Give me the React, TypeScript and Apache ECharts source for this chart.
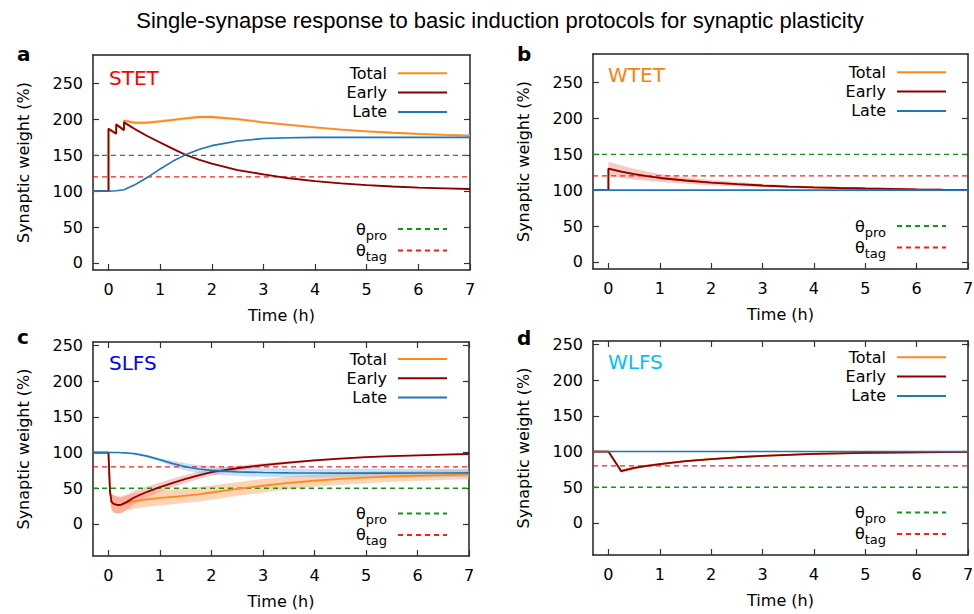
import { useEffect, useRef } from 'react';
import * as echarts from 'echarts';

const FONT = 'DejaVu Sans';

const chartTitle = 'Single-synapse response to basic induction protocols for synaptic plasticity';
const panelLetters = ['a', 'b', 'c', 'd'];
const protocolNames = ['STET', 'WTET', 'SLFS', 'WLFS'];
const protocolColors = ['#ff0000', '#ff7f0e', '#0000ff', '#00bfff'];
const seriesNames = ['Total', 'Early', 'Late'];
const thresholdNames = ['θpro', 'θtag'];
const xAxisName = 'Time (h)';
const yAxisName = 'Synaptic weight (%)';
const xTickValues = [0, 1, 2, 3, 4, 5, 6, 7];
const yTickValues = [0, 50, 100, 150, 200, 250];
const xMin = -0.3;
const xMax = 7;
const thetaPro = [150, 150, 50, 50];
const thetaTag = [120, 120, 80, 80];

// STET (strong tetanus)
const timeSTET = [-0.3, 0, 0, 0.15, 0.15, 0.3, 0.3, 0.5, 0.75, 1, 1.25, 1.5, 1.75, 2, 2.5, 3, 3.5, 4, 4.5, 5, 5.5, 6, 6.5, 7];
const totalSTET = [100, 100, 187, 180.5, 193.5, 186, 198.5, 195.5, 195.5, 197.5, 199.5, 201.5, 203.5, 203.5, 200.5, 196, 192.5, 189, 186, 183.5, 181.5, 180, 178.5, 177.5];
const earlySTET = [100, 100, 187, 180, 193, 185, 196, 187, 177, 168, 159, 150.5, 144, 138.5, 129.5, 123.5, 118, 114, 111, 108.5, 106.5, 105, 104, 103];
const lateSTET = [100, 100, 100, 100.5, 100.5, 102, 102, 108.5, 119, 131, 142, 151, 158, 163.5, 170, 173.5, 174.5, 175, 175, 175, 175, 175, 175, 175];
const totalErrSTET = [0, 0, 1.5, 1.5, 1.5, 1.5, 2, 2, 2, 2, 2, 2, 2, 2, 2, 1.5, 1.5, 1.5, 1.5, 1.5, 1.5, 1.5, 1.5, 1.5];
const earlyErrSTET = [0, 0, 2, 2, 2, 2, 2, 2, 1.5, 1.5, 1.5, 1.5, 1, 1, 1, 1, 1, 1, 1, 1, 1, 1, 1, 1];
const lateErrSTET = [0, 0, 0, 0, 0, 0.5, 0.5, 1, 1, 1, 1, 1, 1, 1, 1, 1, 1, 1, 1, 1, 1, 1, 1, 1];

// WTET (weak tetanus)
const timeWTET = [-0.3, 0, 0, 0.25, 0.5, 0.75, 1, 1.5, 2, 2.5, 3, 3.5, 4, 4.5, 5, 5.5, 6, 6.5, 7];
const totalWTET = [100, 100, 130, 126, 122.5, 119.5, 117, 113.5, 110.5, 108.3, 106.5, 105, 103.8, 103, 102.3, 101.7, 101.2, 100.8, 100.5];
const earlyWTET = [100, 100, 130, 126, 122.5, 119.5, 117, 113.5, 110.5, 108.3, 106.5, 105, 103.8, 103, 102.3, 101.7, 101.2, 100.8, 100.5];
const lateWTET = [100, 100, 100, 100, 100, 100, 100, 100, 100, 100, 100, 100, 100, 100, 100, 100, 100, 100, 100];
const earlyErrWTET = [0, 0, 9.5, 8.5, 7.5, 6.5, 5.5, 4.5, 3.8, 3, 2.5, 2, 1.6, 1.3, 1, 0.8, 0.6, 0.5, 0.4];

// SLFS (strong low-frequency stimulation)
const timeSLFS = [-0.3, 0, 0.03, 0.06, 0.1, 0.15, 0.2, 0.25, 0.35, 0.5, 0.75, 1, 1.25, 1.5, 1.75, 2, 2.5, 3, 3.5, 4, 4.5, 5, 5.5, 6, 6.5, 7];
const totalSLFS = [100, 100, 45, 31, 28, 27, 26, 26.5, 29, 32, 34.5, 36.5, 38, 39.5, 41.5, 44, 49, 53.5, 57.5, 60.5, 63, 65, 66.5, 67.5, 68.5, 69];
const earlySLFS = [100, 100, 45, 31, 28, 27, 26.5, 27, 30.5, 37, 45, 51.5, 57.5, 63, 68, 72.5, 78, 82.5, 86, 89, 91.5, 93.5, 95, 96, 97, 98];
const lateSLFS = [100, 100, 100, 100, 100, 100, 100, 99.8, 99.5, 98.5, 95, 90, 84.5, 80, 77, 75, 73, 72, 71.5, 71.3, 71.2, 71.2, 71.2, 71.3, 71.4, 71.5];
const totalErrSLFS = [0, 0, 8, 11, 12, 12, 11.5, 11, 10.5, 10.5, 10.5, 10.5, 10.5, 10, 10, 10, 9.5, 9.5, 9, 8.5, 8, 8, 7.5, 7, 7, 6.5];
const earlyErrSLFS = [0, 0, 8, 11, 12, 12, 12, 11.5, 10.5, 9, 7.5, 6.5, 6, 5.5, 5, 4.5, 3.5, 2.5, 2, 1.5, 1.3, 1.2, 1, 1, 1, 1];
const lateErrSLFS = [0, 0, 0, 0, 0, 0, 0, 0, 0.3, 0.5, 1.5, 2.5, 4, 5, 5.5, 6, 6, 6, 6, 6, 6, 6, 6, 6, 6, 6];

// WLFS (weak low-frequency stimulation)
const timeWLFS = [-0.3, 0, 0.25, 0.5, 0.75, 1, 1.5, 2, 2.5, 3, 3.5, 4, 4.5, 5, 5.5, 6, 6.5, 7];
const totalWLFS = [100, 100, 72.5, 77, 80, 82.5, 86.5, 89.5, 92, 94, 95.5, 96.7, 97.5, 98.1, 98.6, 99, 99.3, 99.5];
const earlyWLFS = [100, 100, 72.5, 77, 80, 82.5, 86.5, 89.5, 92, 94, 95.5, 96.7, 97.5, 98.1, 98.6, 99, 99.3, 99.5];
const lateWLFS = [100, 100, 100, 100, 100, 100, 100, 100, 100, 100, 100, 100, 100, 100, 100, 100, 100, 100];
const earlyErrWLFS = [0, 0, 2.5, 2, 1.8, 1.6, 1.3, 1.1, 1, 0.9, 0.8, 0.7, 0.6, 0.6, 0.5, 0.5, 0.5, 0.5];

type Panel = {
  time: number[];
  total: number[];
  early: number[];
  late: number[];
  totalErr?: number[];
  earlyErr?: number[];
  lateErr?: number[];
};

const panels: Panel[] = [
  { time: timeSTET, total: totalSTET, early: earlySTET, late: lateSTET, totalErr: totalErrSTET, earlyErr: earlyErrSTET, lateErr: lateErrSTET },
  { time: timeWTET, total: totalWTET, early: earlyWTET, late: lateWTET, earlyErr: earlyErrWTET },
  { time: timeSLFS, total: totalSLFS, early: earlySLFS, late: lateSLFS, totalErr: totalErrSLFS, earlyErr: earlyErrSLFS, lateErr: lateErrSLFS },
  { time: timeWLFS, total: totalWLFS, early: earlyWLFS, late: lateWLFS, earlyErr: earlyErrWLFS },
];

// layout of the 2x2 panel grid
const gridBoxes = [
  [93, 55, 377, 215],
  [593, 54, 375, 215],
  [93, 342, 376, 214],
  [593, 341, 375, 214],
];
const yRanges = [[-10, 290], [-10, 290], [-45, 255], [-45, 255]];
const legendRight = [526, 27, 526, 27];
const legendTopMain = [63.8, 62.8, 349.5, 347.8];
const legendTopTheta = [216.5, 213.5, 501, 500];
const letterPos = [[17, 54], [517, 54], [17, 337], [517, 338]];
const protocolPos = [[109, 77.7], [608, 75], [109, 363.3], [608, 362.3]];
const showTopTicks = [false, false, true, true];

const COLORS = {
  total: '#ff8a1c',
  early: '#8b0000',
  late: '#1f77b4',
  pro: '#119911',
  tag: '#ff1a1a',
  axis: '#222',
  tick: '#333',
};
const BAND_COLORS = {
  total: 'rgba(255,160,90,0.45)',
  early: 'rgba(245,120,110,0.4)',
  late: 'rgba(120,180,230,0.4)',
};

// shaded spread (mean ± err) drawn as one polygon through the axis scales
function bandSeries(i: number, key: 'total' | 'early' | 'late', time: number[], mean: number[], err: number[]) {
  const upper = time.map((t, k) => [t, mean[k] + err[k]]);
  const lower = time.map((t, k) => [t, mean[k] - err[k]]);
  return {
    type: 'custom',
    name: `${key} spread ${i}`,
    xAxisIndex: i,
    yAxisIndex: i,
    silent: true,
    clip: true,
    z: 1,
    data: time.map((t, k) => [t, mean[k] - err[k], mean[k] + err[k]]),
    encode: { x: 0, y: [1, 2] },
    renderItem: (params: any, api: any) => {
      if (params.dataIndex !== 0) return { type: 'group', children: [] };
      const points = [
        ...upper.map((p) => api.coord(p)),
        ...lower.slice().reverse().map((p) => api.coord(p)),
      ];
      return { type: 'polygon', shape: { points }, style: { fill: BAND_COLORS[key] } };
    },
  };
}

function lineSeries(i: number, name: string, time: number[], values: number[], color: string, width: number, z: number) {
  return {
    type: 'line',
    name,
    xAxisIndex: i,
    yAxisIndex: i,
    data: time.map((t, k) => [t, values[k]]),
    symbol: 'none',
    silent: true,
    z,
    lineStyle: { color, width },
    itemStyle: { color },
  };
}

function thresholdSeries(i: number, name: string, value: number, color: string) {
  return {
    type: 'line',
    name,
    xAxisIndex: i,
    yAxisIndex: i,
    data: [[xMin, value], [xMax, value]],
    symbol: 'none',
    silent: true,
    z: 2,
    lineStyle: { color, width: 1.4, type: [5, 4] },
    itemStyle: { color },
  };
}

function buildOption() {
  const grid: any[] = [];
  const xAxis: any[] = [];
  const yAxis: any[] = [];
  const series: any[] = [];
  const legend: any[] = [];
  const graphic: any[] = [];

  const frame = { show: true, onZero: false, lineStyle: { color: COLORS.axis, width: 1.5 } };
  const tickStyle = { show: true, inside: true, length: 6, lineStyle: { color: COLORS.tick, width: 1.2 } };
  const labelStyle = { fontFamily: FONT, fontSize: 16, color: '#000' };
  const hiddenSymbol = { color: 'rgba(0,0,0,0)', borderColor: 'rgba(0,0,0,0)', borderWidth: 0, opacity: 0 };

  panels.forEach((_, i) => {
    const [left, top, width, height] = gridBoxes[i];
    grid.push({ left, top, width, height, show: false, containLabel: false, outerBoundsMode: 'none' });
  });

  // bottom x axes (labels), then top x axes (mirror ticks)
  panels.forEach((_, i) => {
    xAxis.push({
      type: 'value', gridIndex: i, position: 'bottom', min: xMin, max: xMax,
      name: xAxisName, nameLocation: 'middle', nameGap: 37,
      nameTextStyle: { ...labelStyle },
      axisLine: frame, splitLine: { show: false },
      axisTick: { ...tickStyle, customValues: xTickValues },
      axisLabel: { ...labelStyle, margin: 11, customValues: xTickValues },
    });
  });
  panels.forEach((_, i) => {
    xAxis.push({
      type: 'value', gridIndex: i, position: 'top', min: xMin, max: xMax,
      axisLine: frame, splitLine: { show: false },
      axisTick: { ...tickStyle, show: showTopTicks[i], customValues: xTickValues },
      axisLabel: { show: false },
    });
  });
  // left y axes (labels), then right y axes (mirror ticks)
  panels.forEach((_, i) => {
    yAxis.push({
      type: 'value', gridIndex: i, position: 'left', min: yRanges[i][0], max: yRanges[i][1],
      name: yAxisName, nameLocation: 'middle', nameGap: 62,
      nameTextStyle: { ...labelStyle },
      axisLine: frame, splitLine: { show: false },
      axisTick: { ...tickStyle, customValues: yTickValues },
      axisLabel: { ...labelStyle, margin: 10, customValues: yTickValues },
    });
  });
  panels.forEach((_, i) => {
    yAxis.push({
      type: 'value', gridIndex: i, position: 'right', min: yRanges[i][0], max: yRanges[i][1],
      axisLine: frame, splitLine: { show: false },
      axisTick: { ...tickStyle, customValues: yTickValues },
      axisLabel: { show: false },
    });
  });

  panels.forEach((p, i) => {
    if (p.totalErr) series.push(bandSeries(i, 'total', p.time, p.total, p.totalErr));
    if (p.earlyErr) series.push(bandSeries(i, 'early', p.time, p.early, p.earlyErr));
    if (p.lateErr) series.push(bandSeries(i, 'late', p.time, p.late, p.lateErr));
    series.push(thresholdSeries(i, thresholdNames[0], thetaPro[i], COLORS.pro));
    series.push(thresholdSeries(i, thresholdNames[1], thetaTag[i], COLORS.tag));
    series.push(lineSeries(i, seriesNames[0], p.time, p.total, COLORS.total, 1.8, 3));
    series.push(lineSeries(i, seriesNames[1], p.time, p.early, COLORS.early, 1.8, 4));
    series.push(lineSeries(i, seriesNames[2], p.time, p.late, COLORS.late, 1.6, 5));

    legend.push({
      orient: 'vertical', align: 'right', right: legendRight[i], top: legendTopMain[i],
      padding: 0, itemGap: 0.3, itemWidth: 49, itemHeight: 2,
      selectedMode: false, data: seriesNames,
      itemStyle: hiddenSymbol,
      textStyle: { ...labelStyle, lineHeight: 19, padding: [0, 6, 0, 0] },
    });
    legend.push({
      orient: 'vertical', align: 'right', right: legendRight[i], top: legendTopTheta[i],
      padding: 0, itemGap: -3.6, itemWidth: 49, itemHeight: 2,
      selectedMode: false, data: thresholdNames,
      itemStyle: hiddenSymbol,
      formatter: (name: string) => `{th|θ}{sub|${name.slice(1)}}`,
      textStyle: {
        ...labelStyle,
        lineHeight: 18,
        padding: [0, 6, 0, 0],
        rich: {
          th: { fontFamily: FONT, fontSize: 16, lineHeight: 18, color: '#000' },
          sub: { fontFamily: FONT, fontSize: 13, lineHeight: 18, padding: [12, 0, 0, 0], color: '#000' },
        },
      },
    });

    graphic.push({
      type: 'text', x: letterPos[i][0], y: letterPos[i][1], silent: true,
      style: {
        text: panelLetters[i], fontFamily: FONT, fontSize: 20, fontWeight: 'bold',
        fill: '#000', align: 'left', verticalAlign: 'middle',
      },
    });
    graphic.push({
      type: 'text', x: protocolPos[i][0], y: protocolPos[i][1], silent: true,
      style: {
        text: protocolNames[i], fontFamily: FONT, fontSize: 20,
        fill: protocolColors[i], align: 'left', verticalAlign: 'middle',
      },
    });
  });

  return {
    animation: false,
    backgroundColor: '#fff',
    title: {
      text: chartTitle,
      left: 500,
      top: 7,
      textAlign: 'center',
      padding: 0,
      textStyle: { fontFamily: 'Liberation Sans', fontSize: 22, fontWeight: 'normal', color: '#000', lineHeight: 26 },
    },
    grid,
    xAxis,
    yAxis,
    legend,
    series,
    graphic,
  };
}

export default function App() {
  const ref = useRef<HTMLDivElement>(null);
  useEffect(() => {
    if (!ref.current) return;
    const chart = echarts.init(ref.current, null, { renderer: 'svg' });
    chart.setOption(buildOption() as any);
    return () => chart.dispose();
  }, []);
  return <div ref={ref} style={{ position: 'fixed', left: 0, top: 0, width: 974, height: 614 }} />;
}
